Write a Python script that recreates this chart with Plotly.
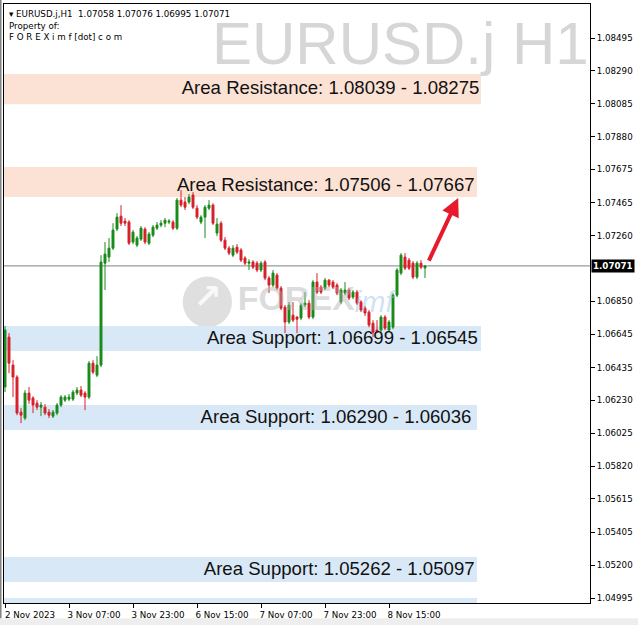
import plotly.graph_objects as go

# ---------------- data ----------------
bar_open = [1.06314, 1.06626, 1.06451, 1.06376, 1.06157, 1.06120, 1.06276, 1.06245, 1.06213, 1.06188,
            1.06188, 1.06157, 1.06132, 1.06151, 1.06201, 1.06232, 1.06238, 1.06238, 1.06276, 1.06295,
            1.06276, 1.06251, 1.06463, 1.06388, 1.06451, 1.07088, 1.07126, 1.07182, 1.07301, 1.07382,
            1.07351, 1.07345, 1.07220, 1.07201, 1.07238, 1.07301, 1.07213, 1.07263, 1.07307, 1.07326,
            1.07338, 1.07345, 1.07345, 1.07307, 1.07482, 1.07470, 1.07470, 1.07514, 1.07432, 1.07345,
            1.07376, 1.07432, 1.07451, 1.07276, 1.07338, 1.07232, 1.07182, 1.07138, 1.07188, 1.07170,
            1.07120, 1.07088, 1.07095, 1.07088, 1.07045, 1.07095, 1.06995, 1.06951, 1.07013, 1.06932,
            1.06813, 1.06720, 1.06763, 1.06751, 1.06745, 1.06826, 1.06838, 1.06751, 1.06970, 1.06938,
            1.06932, 1.06982, 1.06970, 1.06951, 1.06845, 1.06901, 1.06920, 1.06876, 1.06907, 1.06845,
            1.06807, 1.06782, 1.06713, 1.06670, 1.06670, 1.06751, 1.06670, 1.06688, 1.06888, 1.07026,
            1.07126, 1.07107, 1.07088, 1.07001, 1.07088, 1.07058]
bar_high = [1.06695, 1.06651, 1.06482, 1.06388, 1.06182, 1.06295, 1.06314, 1.06257, 1.06232, 1.06220,
            1.06207, 1.06176, 1.06170, 1.06213, 1.06263, 1.06263, 1.06270, 1.06295, 1.06314, 1.06320,
            1.06288, 1.06476, 1.06482, 1.06507, 1.07138, 1.07220, 1.07245, 1.07338, 1.07401, 1.07451,
            1.07370, 1.07357, 1.07295, 1.07257, 1.07320, 1.07313, 1.07282, 1.07326, 1.07345, 1.07357,
            1.07370, 1.07363, 1.07357, 1.07495, 1.07545, 1.07501, 1.07520, 1.07532, 1.07451, 1.07388,
            1.07451, 1.07482, 1.07463, 1.07370, 1.07351, 1.07251, 1.07195, 1.07201, 1.07207, 1.07182,
            1.07132, 1.07113, 1.07107, 1.07101, 1.07101, 1.07107, 1.07007, 1.07045, 1.07026, 1.06945,
            1.06826, 1.06845, 1.06845, 1.06757, 1.06838, 1.06907, 1.06857, 1.06982, 1.07026, 1.06951,
            1.06995, 1.06988, 1.06982, 1.06963, 1.06932, 1.06970, 1.06932, 1.06920, 1.06920, 1.06857,
            1.06820, 1.06795, 1.06732, 1.06732, 1.06763, 1.06763, 1.06732, 1.06901, 1.07057, 1.07151,
            1.07151, 1.07120, 1.07101, 1.07101, 1.07107, 1.07076]
bar_low = [1.06282, 1.06401, 1.06251, 1.06138, 1.06088, 1.06107, 1.06207, 1.06151, 1.06170, 1.06132,
           1.06138, 1.06120, 1.06120, 1.06138, 1.06188, 1.06220, 1.06226, 1.06226, 1.06263, 1.06251,
           1.06170, 1.06238, 1.06395, 1.06376, 1.06438, 1.06920, 1.07095, 1.07170, 1.07288, 1.07320,
           1.07320, 1.07201, 1.07207, 1.07188, 1.07226, 1.07207, 1.07201, 1.07251, 1.07295, 1.07313,
           1.07313, 1.07332, 1.07295, 1.07295, 1.07438, 1.07420, 1.07457, 1.07426, 1.07363, 1.07332,
           1.07245, 1.07420, 1.07326, 1.07257, 1.07220, 1.07170, 1.07138, 1.07126, 1.07145, 1.07095,
           1.07076, 1.07045, 1.07051, 1.07032, 1.07032, 1.06982, 1.06901, 1.06938, 1.06920, 1.06795,
           1.06651, 1.06707, 1.06720, 1.06651, 1.06732, 1.06813, 1.06738, 1.06738, 1.06895, 1.06895,
           1.06920, 1.06938, 1.06926, 1.06888, 1.06832, 1.06888, 1.06857, 1.06863, 1.06826, 1.06782,
           1.06757, 1.06688, 1.06626, 1.06651, 1.06657, 1.06670, 1.06657, 1.06676, 1.06876, 1.07013,
           1.07045, 1.07045, 1.06988, 1.06988, 1.07051, 1.06995]
bar_close = [1.06670, 1.06463, 1.06376, 1.06151, 1.06138, 1.06276, 1.06232, 1.06201, 1.06188, 1.06201,
             1.06151, 1.06138, 1.06157, 1.06201, 1.06251, 1.06251, 1.06251, 1.06282, 1.06295, 1.06263,
             1.06251, 1.06463, 1.06407, 1.06451, 1.07095, 1.07145, 1.07182, 1.07295, 1.07376, 1.07338,
             1.07338, 1.07213, 1.07282, 1.07245, 1.07307, 1.07220, 1.07270, 1.07313, 1.07326, 1.07338,
             1.07357, 1.07351, 1.07307, 1.07482, 1.07451, 1.07438, 1.07501, 1.07438, 1.07376, 1.07376,
             1.07438, 1.07451, 1.07338, 1.07332, 1.07232, 1.07182, 1.07151, 1.07182, 1.07157, 1.07107,
             1.07088, 1.07095, 1.07063, 1.07045, 1.07088, 1.06995, 1.06951, 1.07026, 1.06932, 1.06807,
             1.06720, 1.06826, 1.06732, 1.06738, 1.06826, 1.06838, 1.06751, 1.06970, 1.06907, 1.06907,
             1.06982, 1.06951, 1.06938, 1.06901, 1.06920, 1.06920, 1.06870, 1.06907, 1.06838, 1.06795,
             1.06776, 1.06701, 1.06657, 1.06663, 1.06751, 1.06682, 1.06720, 1.06888, 1.07045, 1.07138,
             1.07057, 1.07057, 1.07001, 1.07088, 1.07063, 1.07071]

time_tick_bars = [0, 16, 32, 48, 64, 80, 96]
time_tick_labels = ["2 Nov 2023", "3 Nov 07:00", "3 Nov 23:00", "6 Nov 15:00",
                    "7 Nov 07:00", "7 Nov 23:00", "8 Nov 15:00"]

price_ticks = [1.08495, 1.08290, 1.08085, 1.07880, 1.07675, 1.07465, 1.07260, 1.06850,
               1.06645, 1.06435, 1.06230, 1.06025, 1.05820, 1.05615, 1.05405, 1.05200, 1.04995]

last_price = 1.07071
header_ohlc = "1.07058 1.07076 1.06995 1.07071"

zone_labels = ["Area Resistance: 1.08039 - 1.08275", "Area Resistance: 1.07506 - 1.07667",
               "Area Support: 1.06699 - 1.06545", "Area Support: 1.06290 - 1.06036",
               "Area Support: 1.05262 - 1.05097", ""]
zone_top = [1.08270, 1.07689, 1.06695, 1.06201, 1.05251, 1.04995]
zone_bottom = [1.08082, 1.07501, 1.06539, 1.06045, 1.05095, 1.04800]
zone_label_price = [1.08176, 1.07570, 1.06614, 1.06120, 1.05170, None]
zone_kind = ["res", "res", "sup", "sup", "sup", "sup"]

# ---------------- figure ----------------
bar_index = list(range(len(bar_open)))
X0, X1 = -0.25, 146.25
Y0, Y1 = 1.04964, 1.08708

zone_right = [119, 118, 119, 118, 118, 118]
label_right = [118.6, 117.4, 118.2, 116.6, 117.4, 117.4]
zone_fill = {"res": "#fce2d5", "sup": "#d8e8f7"}

fig = go.Figure()

shapes = []
for top, bot, kind, xr in zip(zone_top, zone_bottom, zone_kind, zone_right):
    shapes.append(dict(type="rect", xref="x", yref="y", x0=X0, x1=xr, y0=bot, y1=top,
                       fillcolor=zone_fill[kind], line=dict(width=0), layer="below"))

# current price line
shapes.append(dict(type="line", xref="paper", yref="y", x0=0, x1=1, y0=last_price, y1=last_price,
                   line=dict(color="#7c8288", width=1), layer="below"))
# logo circle (watermark)
shapes.append(dict(type="circle", xref="paper", yref="paper", x0=0.305, x1=0.389, y0=0.460, y1=0.545,
                   fillcolor="rgba(185,185,185,0.45)", line=dict(width=0), layer="below"))
# window bottom strip and left edge
shapes.append(dict(type="rect", xref="paper", yref="paper", x0=-0.01, x1=1.09, y0=-0.0380, y1=-0.0255,
                   fillcolor="#eeeeee", line=dict(width=0)))
shapes.append(dict(type="line", xref="paper", yref="paper", x0=-0.0055, x1=-0.0055, y0=-0.0255, y1=1.01,
                   line=dict(color="#808080", width=1.5)))

# watermark texts (drawn before candles so candles lie above them)
fig.add_trace(go.Scatter(x=[72.8], y=[1.06850], mode="text", text=["<b>FOREX</b>"],
                         textfont=dict(family="Liberation Sans", size=34, color="rgba(175,175,175,0.45)"),
                         hoverinfo="skip", showlegend=False))
fig.add_trace(go.Scatter(x=[92.3], y=[1.06830], mode="text", text=["<i>imf</i>"],
                         textfont=dict(family="Liberation Sans", size=29, color="rgba(150,190,230,0.45)"),
                         hoverinfo="skip", showlegend=False))
fig.add_trace(go.Scatter(x=[50.6], y=[1.06860], mode="text", text=["<b>↗</b>"],
                         textfont=dict(family="DejaVu Sans", size=34, color="rgba(255,255,255,0.8)"),
                         hoverinfo="skip", showlegend=False))

# zone labels
for lab, ly, xr in zip(zone_labels, zone_label_price, label_right):
    if not lab:
        continue
    fig.add_trace(go.Scatter(x=[xr], y=[ly], mode="text", text=[lab],
                             textposition="middle left",
                             textfont=dict(family="Liberation Sans", size=18.6, color="#111111"),
                             hoverinfo="skip", showlegend=False))

fig.add_trace(go.Candlestick(
    x=bar_index, open=bar_open, high=bar_high, low=bar_low, close=bar_close,
    increasing=dict(line=dict(color="#1a8a1a", width=1), fillcolor="#1a8a1a"),
    decreasing=dict(line=dict(color="#d8202a", width=1), fillcolor="#d8202a"),
    whiskerwidth=0, showlegend=False, hoverinfo="skip"))

hdr_font = dict(family="DejaVu Sans", size=8.7, color="#000000")
annotations = [
    dict(xref="paper", yref="paper", x=0, y=1, xanchor="left", yanchor="top", xshift=3, yshift=-3,
         text="▾ EURUSD.j,H1  " + header_ohlc, showarrow=False, align="left", font=hdr_font),
    dict(xref="paper", yref="paper", x=0, y=1, xanchor="left", yanchor="top", xshift=3, yshift=-15,
         text="Property of:", showarrow=False, align="left", font=hdr_font),
    dict(xref="paper", yref="paper", x=0, y=1, xanchor="left", yanchor="top", xshift=3, yshift=-26,
         text="F O R E X i m f [dot] c o m", showarrow=False, align="left", font=hdr_font),
    dict(xref="paper", yref="paper", x=1, y=1, xanchor="right", yanchor="top", xshift=1, yshift=-4,
         text="EURUSD.j H1", showarrow=False,
         font=dict(family="Liberation Sans", size=60, color="#d6d6d6")),
    dict(xref="paper", yref="y", x=1, y=last_price, xanchor="left", yanchor="middle", xshift=1,
         text="<b>%.5f</b>" % last_price, showarrow=False, bgcolor="#000000", borderpad=1,
         font=dict(family="DejaVu Sans", size=8.7, color="#ffffff")),
    dict(xref="x", yref="y", x=113.3, y=1.07495, ax=-30, ay=64, axref="pixel", ayref="pixel",
         text="", showarrow=True, arrowhead=2, arrowsize=0.9, arrowwidth=4, arrowcolor="#e8192c"),
]

fig.update_layout(
    width=638, height=625,
    margin=dict(l=4, r=48, t=4, b=22),
    paper_bgcolor="#ffffff", plot_bgcolor="#ffffff",
    shapes=shapes, annotations=annotations,
    showlegend=False, hovermode=False,
    font=dict(family="DejaVu Sans", size=10, color="#000000"),
)
fig.update_xaxes(
    range=[X0, X1], rangeslider=dict(visible=False), showgrid=False, zeroline=False,
    tickmode="array", tickvals=time_tick_bars, ticktext=time_tick_labels,
    ticks="outside", ticklen=4, tickcolor="#000000", ticklabelshift=25, ticklabelstandoff=0,
    showline=True, linecolor="#000000", linewidth=1, mirror=True,
    tickfont=dict(family="DejaVu Sans", size=8.7, color="#000000"),
)
fig.update_yaxes(
    range=[Y0, Y1], side="right", showgrid=False, zeroline=False,
    tickmode="array", tickvals=price_ticks, tickformat=".5f",
    ticks="outside", ticklen=4, tickcolor="#000000",
    showline=True, linecolor="#000000", linewidth=1, mirror=True,
    tickfont=dict(family="DejaVu Sans", size=8.7, color="#000000"),
)

fig.write_html(
    "out.html",
    config={"displayModeBar": False},
    post_script="document.documentElement.style.margin='0';document.body.style.margin='0';"
                "document.body.style.overflow='hidden';",
)
